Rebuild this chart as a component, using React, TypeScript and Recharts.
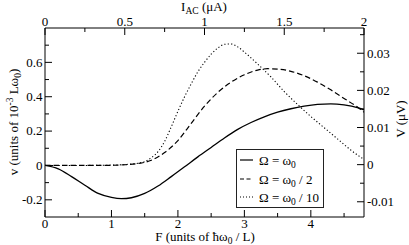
import React from 'react';
import { LineChart, Line, XAxis, YAxis, Legend, Customized } from 'recharts';

const FONT = '"Liberation Serif", "DejaVu Serif", "Times New Roman", serif';
const FS = 13;

// Ω = ω0
const solidF = [0, 0.2, 0.4, 0.6, 0.8, 1.0, 1.15, 1.3, 1.5, 1.7, 1.9, 2.1, 2.3, 2.5, 2.7, 2.9, 3.1, 3.3, 3.5, 3.7, 3.9, 4.1, 4.3, 4.5, 4.7, 4.8];
const solidV = [0, -0.02, -0.065, -0.115, -0.163, -0.186, -0.193, -0.188, -0.163, -0.12, -0.065, -0.008, 0.05, 0.105, 0.16, 0.21, 0.25, 0.283, 0.31, 0.33, 0.345, 0.355, 0.358, 0.352, 0.337, 0.324];

// Ω = ω0 / 2
const dashedF = [0, 0.5, 1.0, 1.2, 1.4, 1.6, 1.8, 2.0, 2.2, 2.4, 2.6, 2.8, 3.0, 3.2, 3.35, 3.5, 3.7, 3.9, 4.1, 4.3, 4.5, 4.7, 4.8];
const dashedV = [0, 0, 0.001, 0.004, 0.011, 0.03, 0.075, 0.145, 0.245, 0.345, 0.425, 0.485, 0.528, 0.555, 0.563, 0.561, 0.548, 0.522, 0.485, 0.44, 0.39, 0.34, 0.31];

// Ω = ω0 / 10
const dottedF = [0, 0.5, 1.0, 1.2, 1.4, 1.5, 1.6, 1.7, 1.8, 1.9, 2.0, 2.1, 2.2, 2.3, 2.4, 2.5, 2.6, 2.7, 2.8, 2.9, 3.0, 3.2, 3.4, 3.6, 3.8, 4.0, 4.2, 4.4, 4.6, 4.8];
const dottedV = [0, 0, 0.002, 0.005, 0.013, 0.022, 0.045, 0.08, 0.14, 0.225, 0.315, 0.4, 0.475, 0.545, 0.6, 0.648, 0.683, 0.705, 0.707, 0.69, 0.66, 0.59, 0.515, 0.43, 0.355, 0.285, 0.22, 0.155, 0.09, 0.035];

// top axis range (I_AC in μA)
const iRange = [0, 2];

// axis ticks
const fMajor = [0, 1, 2, 3, 4];
const fMinor = [0.5, 1.5, 2.5, 3.5, 4.5];
const fLabels = ['0', '1', '2', '3', '4'];
const iMajor = [0, 0.5, 1, 1.5, 2];
const iMinor = [0.25, 0.75, 1.25, 1.75];
const iLabels = ['0', '0.5', '1', '1.5', '2'];
const vMajor = [-0.2, 0, 0.2, 0.4, 0.6];
const vMinor = [-0.1, 0.1, 0.3, 0.5, 0.7];
const vLabels = ['-0.2', '0', '0.2', '0.4', '0.6'];
const VMajor = [-0.01, 0, 0.01, 0.02, 0.03];
const VMinor = [-0.005, 0.005, 0.015, 0.025, 0.035];
const VLabels = ['-0.01', '0', '0.01', '0.02', '0.03'];

const toData = (xs: number[], ys: number[]) => xs.map((f, i) => ({ F: f, v: ys[i] }));
const solidData = toData(solidF, solidV);
const dashedData = toData(dashedF, dashedV);
const dottedData = toData(dottedF, dottedV);

const MAJ = 7;
const MIN = 4;

const makeTick = (orient: string, majors: number[], labels: string[]) => (props: any) => {
  const { x, y, payload } = props;
  const val = payload.value;
  const idx = majors.findIndex((m) => Math.abs(m - val) < 1e-9);
  const major = idx >= 0;
  const len = major ? MAJ : MIN;
  let line: any;
  let text: any = null;
  const tp = { fontFamily: FONT, fontSize: FS, fill: '#000' } as any;
  if (orient === 'bottom') {
    line = <line x1={x} x2={x} y1={y} y2={y - len} stroke="#000" />;
    if (major) text = <text x={x} y={y + 10.5} textAnchor="middle" {...tp}>{labels[idx]}</text>;
  } else if (orient === 'top') {
    line = <line x1={x} x2={x} y1={y} y2={y + len} stroke="#000" />;
    if (major) text = <text x={x} y={y - 2} textAnchor="middle" {...tp}>{labels[idx]}</text>;
  } else if (orient === 'left') {
    line = <line x1={x} x2={x + len} y1={y} y2={y} stroke="#000" />;
    if (major) text = <text x={x - 2.5} y={y + 4.3} textAnchor="end" {...tp}>{labels[idx]}</text>;
  } else {
    line = <line x1={x} x2={x - len} y1={y} y2={y} stroke="#000" />;
    if (major) text = <text x={x + 3} y={y + 4.3} textAnchor="start" {...tp}>{labels[idx]}</text>;
  }
  return (
    <g>
      {line}
      {text}
    </g>
  );
};

const Titles = () => {
  const tp = { fontFamily: FONT, fontSize: FS, fill: '#000' } as any;
  const sub = 9.5;
  return (
    <g>
      <text x={205} y={241} textAnchor="middle" {...tp}>
        F (units of ħω<tspan fontSize={sub} dy={3}>0</tspan>
        <tspan dy={-3}> / L)</tspan>
      </text>
      <text x={204} y={11} textAnchor="middle" {...tp}>
        I<tspan fontSize={sub} dy={3}>AC</tspan>
        <tspan dy={-3}> (μA)</tspan>
      </text>
      <text x={18} y={122} textAnchor="middle" transform="rotate(-90, 18, 122)" {...tp}>
        v (units of 10<tspan fontSize={sub} dy={-5}>-3</tspan>
        <tspan dy={5}> Lω</tspan>
        <tspan fontSize={sub} dy={3}>0</tspan>
        <tspan dy={-3}>)</tspan>
      </text>
      <text x={405} y={119} textAnchor="middle" transform="rotate(-90, 405, 119)" {...tp}>
        V (μV)
      </text>
    </g>
  );
};

const legendItems = [
  { denom: '', dash: undefined as string | undefined },
  { denom: ' / 2', dash: '4 2.5' },
  { denom: ' / 10', dash: '1 2' },
];

const LegendBox = () => {
  const rows = [11, 30, 48];
  return (
    <div style={{ width: 88, height: 59, boxSizing: 'border-box', border: '1px solid #222', background: '#fff' }}>
      <svg width={86} height={57} style={{ display: 'block' }}>
        {legendItems.map((it, i) => (
          <g key={i}>
            <line x1={3} x2={16} y1={rows[i] - 1} y2={rows[i] - 1} stroke="#000" strokeWidth={1.2} strokeDasharray={it.dash} />
            <text x={22} y={rows[i] + 3.5} fontFamily={FONT} fontSize={13} fill="#000">
              Ω = ω<tspan fontSize={9.5} dy={3}>0</tspan>
              <tspan dy={-3}>{it.denom}</tspan>
            </text>
          </g>
        ))}
      </svg>
    </div>
  );
};

export default function App() {
  return (
    <div style={{ position: 'absolute', left: 0, top: 0, background: '#fff' }}>
      <LineChart width={409} height={245} data={solidData} margin={{ top: 0, right: 0, bottom: 0, left: 0 }}>
        <XAxis
          xAxisId="bottom"
          dataKey="F"
          type="number"
          orientation="bottom"
          domain={[0, 4.8]}
          allowDataOverflow
          ticks={[...fMajor, ...fMinor]}
          interval={0}
          height={28}
          tickSize={0}
          tickMargin={0}
          tickLine={false}
          axisLine={{ stroke: '#000' }}
          tick={makeTick('bottom', fMajor, fLabels)}
        />
        <XAxis
          xAxisId="top"
          dataKey="F"
          type="number"
          orientation="top"
          domain={iRange}
          allowDataOverflow
          ticks={[...iMajor, ...iMinor]}
          interval={0}
          height={28}
          tickSize={0}
          tickMargin={0}
          tickLine={false}
          axisLine={{ stroke: '#000' }}
          tick={makeTick('top', iMajor, iLabels)}
        />
        <YAxis
          yAxisId="left"
          type="number"
          orientation="left"
          domain={[-0.3, 0.8]}
          allowDataOverflow
          ticks={[...vMajor, ...vMinor]}
          interval={0}
          width={45}
          tickSize={0}
          tickMargin={0}
          tickLine={false}
          axisLine={{ stroke: '#000' }}
          tick={makeTick('left', vMajor, vLabels)}
        />
        <YAxis
          yAxisId="right"
          type="number"
          orientation="right"
          domain={[-0.0141, 0.0368]}
          allowDataOverflow
          ticks={[...VMajor, ...VMinor]}
          interval={0}
          width={45}
          tickSize={0}
          tickMargin={0}
          tickLine={false}
          axisLine={{ stroke: '#000' }}
          tick={makeTick('right', VMajor, VLabels)}
        />
        <Line xAxisId="bottom" yAxisId="left" dataKey="v" type="monotone" stroke="#000" strokeWidth={1.3} dot={false} isAnimationActive={false} />
        <Line data={dashedData} xAxisId="bottom" yAxisId="left" dataKey="v" type="monotone" stroke="#000" strokeWidth={1.2} strokeDasharray="5.5 3" dot={false} isAnimationActive={false} />
        <Line data={dottedData} xAxisId="bottom" yAxisId="left" dataKey="v" type="monotone" stroke="#000" strokeWidth={1.1} strokeDasharray="1.2 2.2" dot={false} isAnimationActive={false} />
        <Legend
          layout="vertical"
          align="center"
          verticalAlign="middle"
          wrapperStyle={{ left: 236, top: 149, width: 88, height: 59 }}
          content={() => <LegendBox />}
        />
        <Customized component={Titles} />
      </LineChart>
    </div>
  );
}
